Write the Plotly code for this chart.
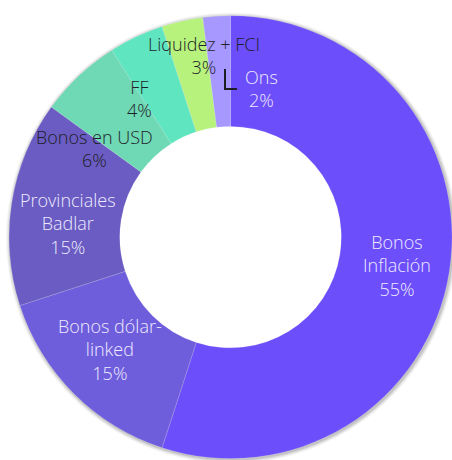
import math
import plotly.graph_objects as go

# ---- data ----
labels = ["Bonos Inflación", "Bonos dólar-linked", "Provinciales Badlar",
          "Bonos en USD", "FF", "Liquidez + FCI", "Ons"]
values = [55, 15, 15, 6, 4, 3, 2]
label_text = ["Bonos<br>Inflación", "Bonos dólar-<br>linked", "Provinciales<br>Badlar",
              "Bonos en USD", "FF", "Liquidez + FCI", "Ons"]

# ---- style ----
colors = ["#6C4EFA", "#6F5EDC", "#6A5CC2", "#6FD8B4", "#5FE6C1", "#B6F27C", "#A698FF"]
text_colors = ["#EEEBFF", "#EEEBFF", "#EEEBFF", "#1E1E28", "#1E1E28", "#1E1E28", "#EEEBFF"]
# pixel nudges for label placement (x right, y up)
nudges = [(2, -2), (-3, 5), (2, -12), (-22, -32), (-20, -12), (10, 20), (41, -17)]

W, H = 452, 460
dom_x = [0.02, 1.0]
dom_y = [0.002, 0.967]
hole = 0.5
FONT = "Open Sans"

fig = go.Figure()

# soft shadow circles behind the donut
cxp = (dom_x[0] + dom_x[1]) / 2 * W
cyp = H - (dom_y[0] + dom_y[1]) / 2 * H
R = min((dom_x[1] - dom_x[0]) * W, (dom_y[1] - dom_y[0]) * H) / 2
for k, a in [(4, 0.04), (3, 0.05), (2, 0.07), (1, 0.09)]:
    fig.add_shape(type="circle", xref="paper", yref="paper", layer="below",
                  x0=(cxp - R - k + 1) / W, x1=(cxp + R + k + 1) / W,
                  y0=1 - (cyp + R + k + 1) / H, y1=1 - (cyp - R - k + 1) / H,
                  line=dict(width=0), fillcolor=f"rgba(0,0,0,{a})")
r_in = R * hole
fig.add_shape(type="circle", xref="paper", yref="paper", layer="below",
              x0=(cxp - r_in - 2) / W, x1=(cxp + r_in + 2) / W,
              y0=1 - (cyp + r_in + 2) / H, y1=1 - (cyp - r_in - 2) / H,
              line=dict(width=0), fillcolor="white")

fig.add_trace(go.Pie(
    labels=labels, values=values, sort=False, direction="clockwise", rotation=0,
    hole=hole, domain=dict(x=dom_x, y=dom_y),
    marker=dict(colors=colors, line=dict(color="rgba(255,255,255,0.25)", width=0.6)),
    textinfo="none", hoverinfo="label+percent", showlegend=False,
))

# labels placed at mid-ring angle of each slice
total = sum(values)
r_mid = R * (1 + hole) / 2
cum = 0
for lab, v, tc, (dx, dy) in zip(label_text, values, text_colors, nudges):
    ang = (cum + v / 2) / total * 2 * math.pi
    cum += v
    px = cxp + r_mid * math.sin(ang)
    py = cyp - r_mid * math.cos(ang)
    pct = f"{round(v / total * 100)}%"
    fig.add_annotation(x=px / W, y=1 - py / H, xref="paper", yref="paper",
                       xanchor="center", yanchor="middle",
                       text=f"{lab}<br>{pct}", showarrow=False, align="center",
                       xshift=dx, yshift=dy,
                       font=dict(family=FONT, size=18, color=tc, weight=300))

# small leader mark near "Ons"
fig.add_shape(type="path", xref="paper", yref="paper",
              path=f"M {225/W},{1-69/H} L {225/W},{1-89/H} L {237/W},{1-89/H}",
              line=dict(color="#1E1E28", width=2))

fig.update_layout(width=W, height=H, margin=dict(l=0, r=0, t=0, b=0),
                  paper_bgcolor="white", plot_bgcolor="white",
                  font=dict(family=FONT))
fig.write_html("out.html", config={"displayModeBar": False},
               post_script="document.body.style.margin='0';document.body.style.overflow='hidden';")
